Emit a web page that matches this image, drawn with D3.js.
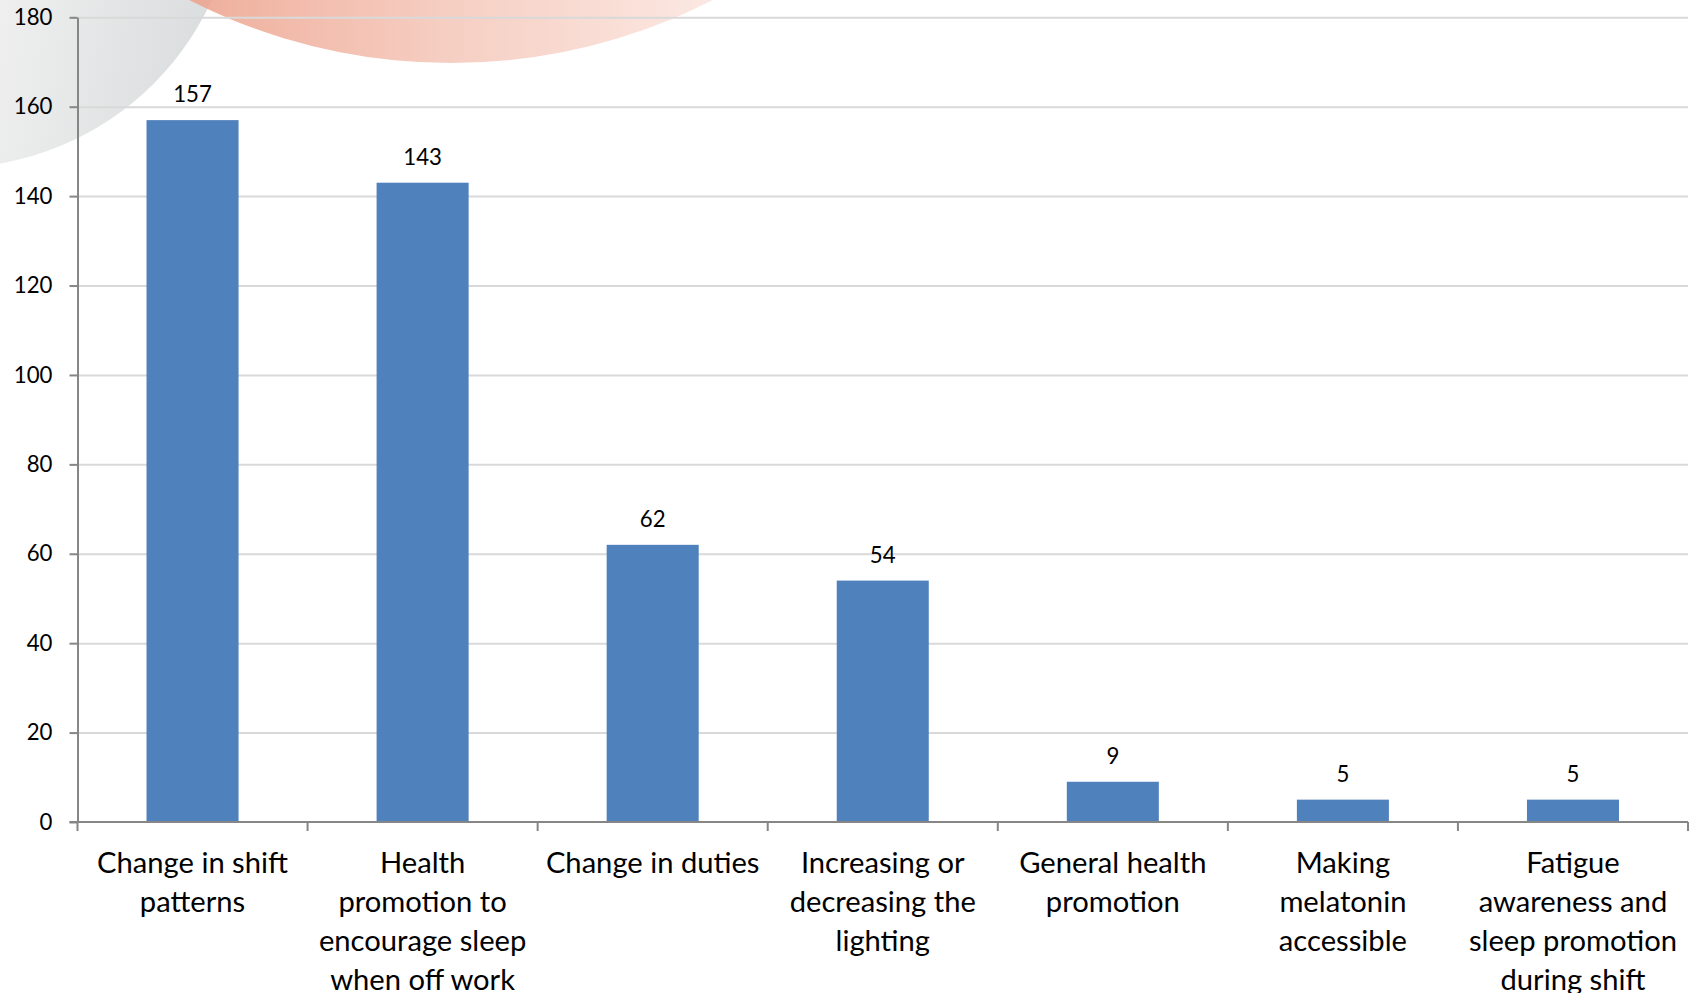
<!DOCTYPE html>
<html>
<head>
<meta charset="utf-8">
<script src="https://cdn.jsdelivr.net/npm/d3@7"></script>
<style>
  body { margin: 0; background: #fff; overflow: hidden; }
  svg { display: block; }
  text { font-family: Lato, "Noto Sans", sans-serif; fill: #000; }
</style>
</head>
<body>
<div id="chart"></div>
<script>
// categories (already split into the lines shown under each bar)
var categories = [
  ["Change in shift", "patterns"],
  ["Health", "promotion to", "encourage sleep", "when off work"],
  ["Change in duties"],
  ["Increasing or", "decreasing the", "lighting"],
  ["General health", "promotion"],
  ["Making", "melatonin", "accessible"],
  ["Fatigue", "awareness and", "sleep promotion", "during shift"]
];
var counts = [157, 143, 62, 54, 9, 5, 5];
var yTicks = [0, 20, 40, 60, 80, 100, 120, 140, 160, 180];

var W = 1694, H = 993;
var margin = {top: 17.3, right: 6, bottom: 171, left: 77.5};

var svg = d3.select("#chart").append("svg")
  .attr("width", W)
  .attr("height", H);

// background decoration from the slide template
var defs = svg.append("defs");
var gGrey = defs.append("linearGradient").attr("id", "greyGrad")
  .attr("gradientUnits", "userSpaceOnUse")
  .attr("x1", 0).attr("y1", 0).attr("x2", 230).attr("y2", 40);
gGrey.append("stop").attr("offset", "0%").attr("stop-color", "#efefef");
gGrey.append("stop").attr("offset", "100%").attr("stop-color", "#d8dbdc");
var gSalmon = defs.append("linearGradient").attr("id", "salmonGrad")
  .attr("gradientUnits", "userSpaceOnUse")
  .attr("x1", 180).attr("y1", 0).attr("x2", 720).attr("y2", 0);
gSalmon.append("stop").attr("offset", "0%").attr("stop-color", "#ec9f88");
gSalmon.append("stop").attr("offset", "50%").attr("stop-color", "#f4c6b8");
gSalmon.append("stop").attr("offset", "100%").attr("stop-color", "#fbe5de");

svg.append("circle").attr("cx", -50).attr("cy", -120).attr("r", 288)
  .attr("fill", "url(#greyGrad)");
svg.append("circle").attr("cx", 451).attr("cy", -513).attr("r", 576)
  .attr("fill", "url(#salmonGrad)").attr("opacity", 0.85);

// scales
var x = d3.scaleBand()
  .domain(d3.range(counts.length))
  .range([margin.left, W - margin.right])
  .paddingInner(0.6)
  .paddingOuter(0.3);

var y = d3.scaleLinear()
  .domain([0, 180])
  .range([H - margin.bottom, margin.top]);

// gridlines
svg.append("g")
  .attr("transform", "translate(" + margin.left + ",0)")
  .call(d3.axisLeft(y).tickValues(yTicks.slice(1)).tickSize(-(W - margin.right - margin.left)).tickFormat(""))
  .call(function(g) {
    g.select(".domain").remove();
    g.selectAll("line").attr("stroke", "#d9d9d9").attr("stroke-width", 2);
  });

// bars
svg.selectAll("rect.bar")
  .data(counts)
  .enter().append("rect")
    .attr("class", "bar")
    .attr("x", function(d, i) { return x(i); })
    .attr("y", function(d) { return y(d); })
    .attr("width", x.bandwidth())
    .attr("height", function(d) { return y(0) - y(d); })
    .attr("fill", "#4f81bd");

// value labels
var valueLabels = svg.selectAll("text.val")
  .data(counts)
  .enter().append("text")
    .attr("class", "val")
    .attr("x", function(d, i) { return x(i) + x.bandwidth() / 2; })
    .attr("y", function(d) { return y(d) - 18; })
    .attr("text-anchor", "middle")
    .style("font-size", "26px")
    .text(function(d) { return d; });

// y axis
var yAxis = svg.append("g")
  .attr("transform", "translate(" + margin.left + ",0)")
  .call(d3.axisLeft(y).tickValues(yTicks).tickSize(8).tickSizeOuter(0).tickPadding(17));
yAxis.select(".domain").attr("stroke", "#868686").attr("stroke-width", 2);
yAxis.selectAll("line").attr("stroke", "#868686").attr("stroke-width", 2);
yAxis.selectAll("text").style("font-size", "26px").style("font-family", null).attr("fill", "#000");

// x axis: line plus ticks on the category boundaries
var xAxis = svg.append("g").attr("transform", "translate(0," + y(0) + ")");
xAxis.append("line")
  .attr("x1", x.range()[0] - 8).attr("x2", x.range()[1])
  .attr("stroke", "#868686").attr("stroke-width", 2);
xAxis.selectAll("line.tick")
  .data(d3.range(counts.length + 1))
  .enter().append("line")
    .attr("class", "tick")
    .attr("x1", function(i) { return x.range()[0] + i * x.step(); })
    .attr("x2", function(i) { return x.range()[0] + i * x.step(); })
    .attr("y1", 0).attr("y2", 9)
    .attr("stroke", "#868686").attr("stroke-width", 2);

var catLabels = xAxis.selectAll("text.cat")
  .data(categories)
  .enter().append("text")
    .attr("class", "cat")
    .attr("text-anchor", "middle")
    .attr("transform", function(d, i) { return "translate(" + (x(i) + x.bandwidth() / 2) + ",51)"; })
    .style("font-size", "30px");
catLabels.selectAll("tspan")
  .data(function(d) { return d; })
  .enter().append("tspan")
    .attr("x", 0)
    .attr("y", function(d, j) { return j * 39; })
    .text(function(d) { return d; });

// fit the fallback font to the width of the original labels
var probe = catLabels.filter(function(d, i) { return i === 0; }).select("tspan").node();
var catSize = 30 * 191 / probe.getComputedTextLength();
catLabels.style("font-size", catSize + "px");
var vProbe = valueLabels.node();
var valSize = 26 * 38.7 / vProbe.getComputedTextLength();
valueLabels.style("font-size", valSize + "px");
yAxis.selectAll("text").style("font-size", valSize + "px");
</script>
</body>
</html>
